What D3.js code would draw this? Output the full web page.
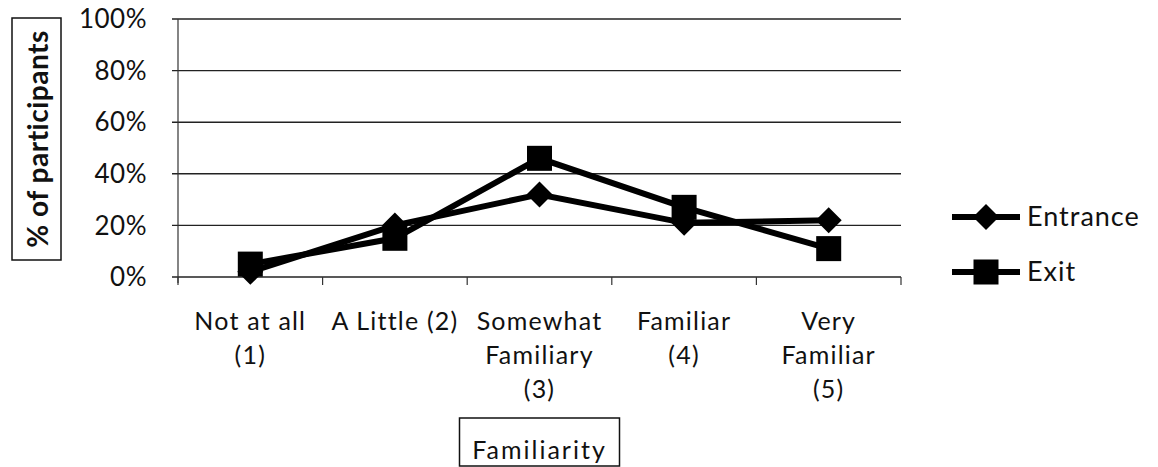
<!DOCTYPE html>
<html><head><meta charset="utf-8">
<script src="https://cdn.jsdelivr.net/npm/d3@7"></script>
<style>body{margin:0;background:#fff}svg{display:block}text{font-family:Lato,"Open Sans",sans-serif;fill:#111}</style>
</head><body><svg id="c" width="1158" height="467"></svg>
<script>
const categories = [["Not at all","(1)"],["A Little (2)"],["Somewhat","Familiary","(3)"],["Familiar","(4)"],["Very","Familiar","(5)"]];
const entrance = [2, 20, 32, 21, 22];
const exitVals = [5, 15, 46, 27, 11];
const yTicks = [0, 20, 40, 60, 80, 100];
const seriesNames = ["Entrance", "Exit"];

const svg = d3.select("#c");
const L = 178, R = 901, T = 19, B = 277;
const x = d3.scaleBand().domain(d3.range(categories.length)).range([L, R]);
const y = d3.scaleLinear().domain([0, 100]).range([B, T]);

// gridlines
svg.append("g").selectAll("line").data(yTicks).join("line")
  .attr("x1", L - 6).attr("x2", R).attr("y1", d => y(d)).attr("y2", d => y(d))
  .attr("stroke", "#222").attr("stroke-width", 1.4);
// y axis line
svg.append("line").attr("x1", L).attr("x2", L).attr("y1", T).attr("y2", B + 6).attr("stroke", "#333").attr("stroke-width", 1.2);
// x ticks
const bounds = d3.range(categories.length + 1).map(i => i < categories.length ? x(i) : R);
svg.append("g").selectAll("line").data(bounds).join("line")
  .attr("x1", d => d).attr("x2", d => d).attr("y1", B).attr("y2", B + 8)
  .attr("stroke", "#333").attr("stroke-width", 1.2);
// y tick labels
svg.append("g").selectAll("text").data(yTicks).join("text")
  .attr("x", 147).attr("y", d => y(d)).attr("dy", "0.35em").attr("text-anchor", "end")
  .attr("font-size", 26).attr("letter-spacing", 0.5).text(d => d + "%");
// y title
svg.append("rect").attr("x", 12).attr("y", 18).attr("width", 49).attr("height", 242).attr("fill", "none").attr("stroke", "#111").attr("stroke-width", 1.5);
svg.append("text").attr("transform", "translate(38,139) rotate(-90)").attr("text-anchor", "middle").attr("dy", "0.35em")
  .attr("font-size", 28).attr("font-weight", "bold").attr("letter-spacing", 0.5).text("% of participants");
// x labels
categories.forEach((lines, i) => {
  lines.forEach((t, j) => {
    svg.append("text").attr("x", x(i) + x.bandwidth() / 2).attr("y", 330 + j * 34)
      .attr("text-anchor", "middle").attr("font-size", 25).attr("letter-spacing", 1.2).text(t);
  });
});
// x title
const cMid = (L + R) / 2;
svg.append("rect").attr("x", cMid - 80).attr("y", 418).attr("width", 160).attr("height", 48).attr("fill", "none").attr("stroke", "#111").attr("stroke-width", 1.5);
svg.append("text").attr("x", cMid).attr("y", 459).attr("text-anchor", "middle").attr("font-size", 25).attr("letter-spacing", 2).text("Familiarity");

const cx = i => x(i) + x.bandwidth() / 2;
const line = d3.line().x((d, i) => cx(i)).y(d => y(d));
const diamond = (g, px, py) => g.append("path").attr("d", `M${px},${py-13}L${px+13},${py}L${px},${py+13}L${px-13},${py}Z`).attr("fill", "#000");
const square = (g, px, py) => g.append("rect").attr("x", px - 12.5).attr("y", py - 12.5).attr("width", 25).attr("height", 25).attr("fill", "#000");

const g = svg.append("g");
g.append("path").datum(entrance).attr("d", line).attr("fill", "none").attr("stroke", "#000").attr("stroke-width", 6);
g.append("path").datum(exitVals).attr("d", line).attr("fill", "none").attr("stroke", "#000").attr("stroke-width", 6);
entrance.forEach((v, i) => diamond(g, cx(i), y(v)));
exitVals.forEach((v, i) => square(g, cx(i), y(v)));

// legend
const legY = [217, 272];
seriesNames.forEach((n, k) => {
  svg.append("line").attr("x1", 952).attr("x2", 1020).attr("y1", legY[k]).attr("y2", legY[k]).attr("stroke", "#000").attr("stroke-width", 6);
  if (k === 0) diamond(svg, 986, legY[k]); else square(svg, 986, legY[k]);
  svg.append("text").attr("x", 1027).attr("y", legY[k]).attr("dy", "0.35em").attr("font-size", 27).attr("letter-spacing", 1).text(n);
});
</script></body></html>
